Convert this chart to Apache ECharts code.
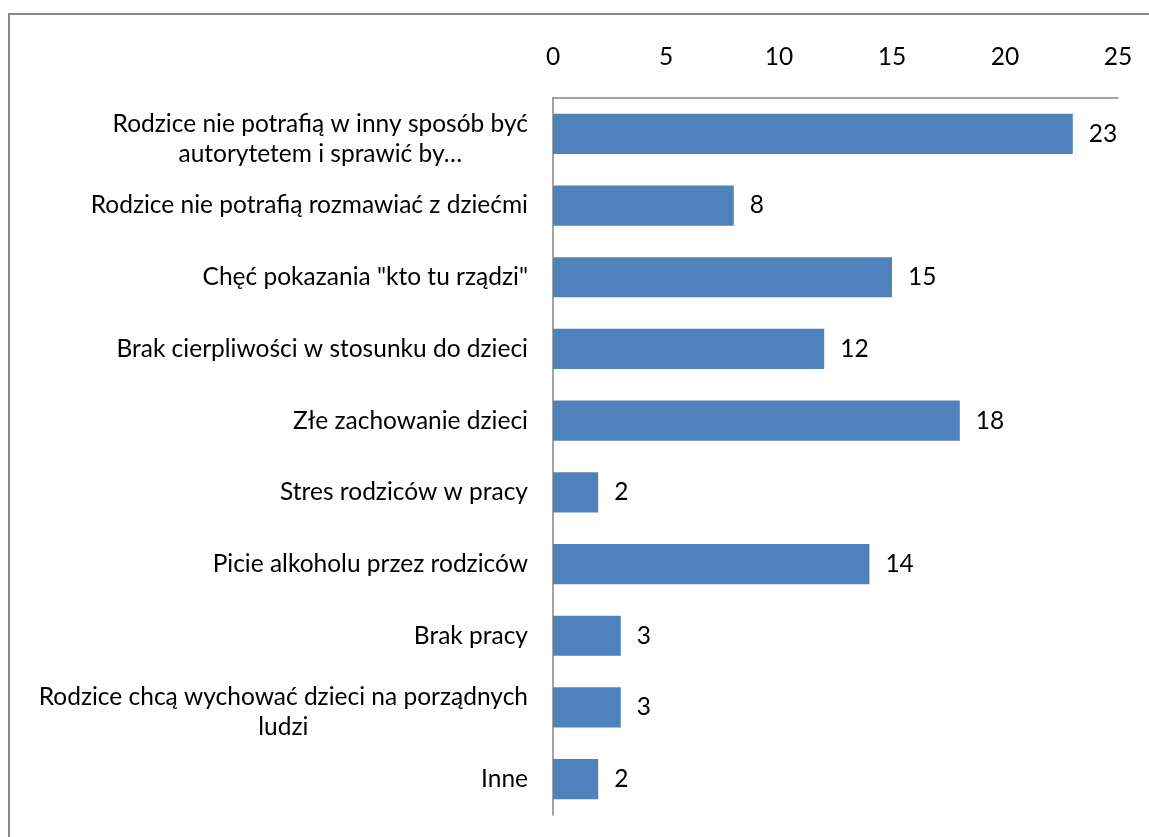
<!DOCTYPE html>
<html>
<head>
<meta charset="utf-8">
<script src="https://cdn.jsdelivr.net/npm/echarts@6/dist/echarts.min.js"></script>
<style>
html,body{margin:0;padding:0;background:#fff;}
#chart{width:1149px;height:837px;}
</style>
</head>
<body>
<div id="chart"></div>
<script>
var categories = [
  "Rodzice nie potrafią w inny sposób być\nautorytetem i sprawić by…",
  "Rodzice nie potrafią rozmawiać z dziećmi",
  "Chęć pokazania \"kto tu rządzi\"",
  "Brak cierpliwości w stosunku do dzieci",
  "Złe zachowanie dzieci",
  "Stres rodziców w pracy",
  "Picie alkoholu przez rodziców",
  "Brak pracy",
  "Rodzice chcą wychować dzieci na porządnych\nludzi",
  "Inne"
];
var values = [23, 8, 15, 12, 18, 2, 14, 3, 3, 2];
var xTicks = [0, 5, 10, 15, 20, 25];

var FONT = "Lato";
var FS = 24.5;
var catData = categories.map(function (c) {
  return c.indexOf('\n') >= 0 ? {value: c, textStyle: {padding: [10, 0, 0, 0]}} : c;
});
var chart = echarts.init(document.getElementById('chart'));
chart.setOption({
  animation: false,
  backgroundColor: '#fff',
  textStyle: {fontFamily: FONT},
  graphic: [{
    type: 'rect',
    shape: {x: 9, y: 14, width: 1300, height: 1000},
    style: {fill: 'none', stroke: '#878787', lineWidth: 2},
    silent: true
  }],
  grid: {left: 553, top: 98, right: 31, bottom: 22, containLabel: false},
  xAxis: {
    type: 'value',
    position: 'top',
    min: xTicks[0],
    max: xTicks[xTicks.length - 1],
    interval: 5,
    axisLine: {show: true, lineStyle: {color: '#868686', width: 1.5}},
    axisTick: {show: false},
    splitLine: {show: false},
    axisLabel: {margin: 28, fontSize: FS, color: '#000', fontFamily: FONT}
  },
  yAxis: {
    type: 'category',
    inverse: true,
    data: catData,
    axisLine: {show: true, lineStyle: {color: '#868686', width: 1.5}},
    axisTick: {show: false},
    axisLabel: {
      margin: 25,
      fontSize: FS,
      color: '#000',
      fontFamily: FONT,
      lineHeight: 30,
      formatter: function (v) {
        return v.split('\n').map(function (l) { return '{c|' + l + '}'; }).join('\n');
      },
      rich: {
        c: {align: 'center', fontSize: FS, color: '#000', fontFamily: FONT, lineHeight: 30}
      }
    }
  },
  series: [{
    type: 'bar',
    data: values,
    barCategoryGap: '44%',
    itemStyle: {color: '#4F81BD'},
    label: {show: true, position: 'right', distance: 16, fontSize: FS, color: '#000', fontFamily: FONT}
  }]
});
</script>
</body>
</html>
